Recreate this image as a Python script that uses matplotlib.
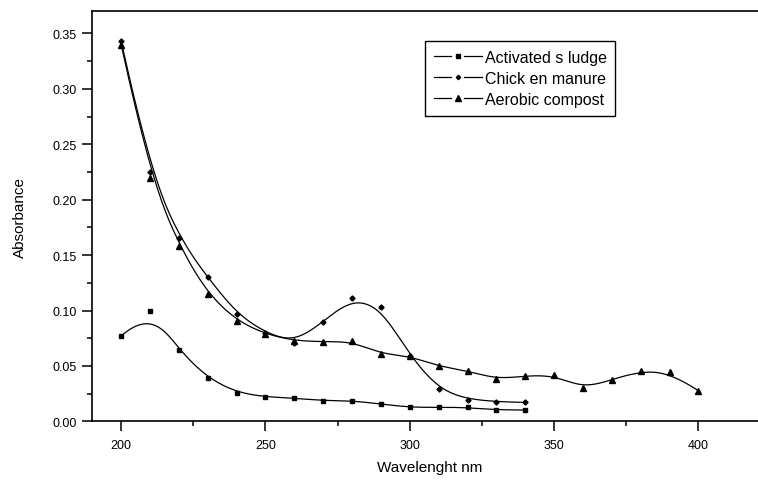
import numpy as np
import matplotlib
matplotlib.use("Agg")
import matplotlib.pyplot as plt
from matplotlib.ticker import MultipleLocator
from matplotlib.legend_handler import HandlerBase
from matplotlib.lines import Line2D

plt.rcParams['font.family'] = ['Liberation Sans', 'DejaVu Sans']

wl_short = [200, 210, 220, 230, 240, 250, 260, 270, 280, 290, 300, 310, 320, 330, 340]
wl_long = [200, 210, 220, 230, 240, 250, 260, 270, 280, 290, 300, 310, 320, 330, 340,
           350, 360, 370, 380, 390, 400]

sludge = [0.077, 0.100, 0.064, 0.039, 0.026, 0.022, 0.021, 0.0186, 0.0186, 0.0156,
          0.0126, 0.0126, 0.0126, 0.0102, 0.0102]
chicken = [0.343, 0.225, 0.165, 0.130, 0.097, 0.080, 0.071, 0.090, 0.111, 0.103,
           0.059, 0.029, 0.0195, 0.0177, 0.017]
compost = [0.340, 0.220, 0.158, 0.115, 0.0907, 0.0787, 0.0727, 0.0718, 0.0722, 0.0607,
           0.059, 0.0496, 0.0456, 0.038, 0.041, 0.0417, 0.0297, 0.0375, 0.0456, 0.0447, 0.0276]

labels = ["Activated s ludge", "Chick en manure", "Aerobic compost"]


def bspline(x, y, k=3, n=400):
    """Clamped B-spline using the data points as control points."""
    P = np.column_stack([x, y]).astype(float)
    m = len(P)
    inner = np.linspace(0, 1, m - k + 1)
    t = np.concatenate([np.zeros(k), inner, np.ones(k)])
    u = np.linspace(0, 1, n)
    u[-1] = 1 - 1e-12
    N = np.zeros((n, len(t) - 1))
    for i in range(len(t) - 1):
        N[:, i] = ((u >= t[i]) & (u < t[i + 1])).astype(float)
    for d in range(1, k + 1):
        Nn = np.zeros((n, len(t) - d - 1))
        for i in range(len(t) - d - 1):
            a = np.zeros(n)
            b = np.zeros(n)
            if t[i + d] != t[i]:
                a = (u - t[i]) / (t[i + d] - t[i]) * N[:, i]
            if t[i + d + 1] != t[i + 1]:
                b = (t[i + d + 1] - u) / (t[i + d + 1] - t[i + 1]) * N[:, i + 1]
            Nn[:, i] = a + b
        N = Nn
    C = N @ P
    return C[:, 0], C[:, 1]


class GapHandler(HandlerBase):
    """Legend handle drawn as '— marker —' with gaps around the marker."""
    def create_artists(self, legend, orig, xdescent, ydescent, width, height,
                       fontsize, trans):
        y = height / 2 - ydescent
        x0 = -xdescent
        x1 = x0 + width
        xm = x0 + width / 2
        g = 0.14 * width
        l1 = Line2D([x0, xm - g], [y, y], color='black', lw=0.9)
        l2 = Line2D([xm + g, x1], [y, y], color='black', lw=0.9)
        mk = Line2D([xm], [y], linestyle='none', marker=orig.get_marker(),
                    ms=orig.get_markersize(), color='black')
        for a in (l1, l2, mk):
            a.set_transform(trans)
        return [l1, l2, mk]


fig = plt.figure(figsize=(7.58, 4.81), dpi=100)
ax = fig.add_axes([0.1218, 0.122, 0.9138, 0.8524])

series = [(wl_short, sludge, 's', 3.2), (wl_short, chicken, 'D', 2.6), (wl_long, compost, '^', 4.5)]
handles = []
for (xs, ys, mk, ms), lab in zip(series, labels):
    cx, cy = bspline(xs, ys)
    ax.plot(cx, cy, color='black', lw=0.9)
    ax.plot(xs, ys, linestyle='none', marker=mk, color='black', ms=ms)
    h, = ax.plot([], [], color='black', lw=0.9, marker=mk, ms=ms * 0.85, label=lab)
    handles.append(h)

ax.set_xlim(190, 430)
ax.set_ylim(0, 0.37)
ax.xaxis.set_major_locator(MultipleLocator(50))
ax.xaxis.set_minor_locator(MultipleLocator(25))
ax.yaxis.set_major_locator(MultipleLocator(0.05))
ax.yaxis.set_minor_locator(MultipleLocator(0.025))
ax.yaxis.set_major_formatter(matplotlib.ticker.FormatStrFormatter('%.2f'))
ax.tick_params(which='major', direction='out', length=7, width=1.1, labelsize=9, pad=4)
ax.tick_params(axis='x', which='major', pad=6)
ax.tick_params(which='minor', direction='out', length=3.6, width=1.1)
for s in ax.spines.values():
    s.set_linewidth(1.2)

ax.set_xlabel("Wavelenght nm", fontsize=11)
ax.set_ylabel("Absorbance", fontsize=11)
ax.xaxis.set_label_coords(0.4875, -0.095)
ax.yaxis.set_label_coords(-0.094, 0.5)

leg = ax.legend(handles=handles, loc='upper left', bbox_to_anchor=(0.48, 0.928),
                borderaxespad=0, fancybox=False, edgecolor='black', fontsize=11.5,
                handlelength=3.0, labelspacing=0.38, handletextpad=0.2, borderpad=0.55,
                framealpha=1, handler_map={h: GapHandler() for h in handles})
leg.get_frame().set_linewidth(1.0)

fig.savefig("out.png", dpi=100)
